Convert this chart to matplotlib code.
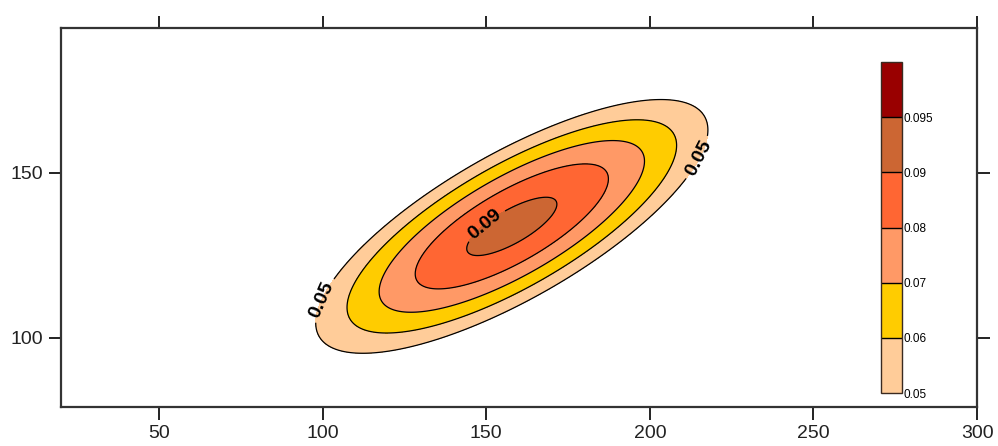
import numpy as np
import matplotlib
matplotlib.use('Agg')
import matplotlib.pyplot as plt

plt.rcParams['font.family'] = ['Liberation Sans', 'DejaVu Sans']

# contour levels and the fill colours from the legend
levels = [0.05, 0.06, 0.07, 0.08, 0.09, 0.095, 0.1]
level_labels = ['0.05', '0.06', '0.07', '0.08', '0.09', '0.095']
fill_colors = ['#FFCC99', '#FFCC00', '#FF9966', '#FF6633', '#CC6633', '#990000']

# gaussian surface, parameters
peak = 0.093
center_x, center_y = 157.8, 133.8
sigma_x, sigma_y, rho = 53.8, 34.5, 0.76

x_range = (20, 300)
y_range = (79, 194)
x_ticks = [50, 100, 150, 200, 250, 300]
y_ticks = [100, 150]

# which contours carry a label, and roughly where
labelled_levels = [0.05, 0.09]
plain_levels = [0.06, 0.07, 0.08]
label_spots = [(101, 111), (214, 155), (150, 134)]

gx = np.linspace(x_range[0], x_range[1], 700)
gy = np.linspace(y_range[0], y_range[1], 400)
X, Y = np.meshgrid(gx, gy)
dx = (X - center_x) / sigma_x
dy = (Y - center_y) / sigma_y
q = (dx**2 - 2 * rho * dx * dy + dy**2) / (1 - rho**2)
Z = peak * np.exp(-q / 2)

fig = plt.figure(figsize=(9.98, 4.46), dpi=100)
ax = fig.add_axes([0.0611, 0.0868, 0.9179, 0.8511])

cf = ax.contourf(X, Y, Z, levels=levels, colors=fill_colors)
ax.contour(X, Y, Z, levels=plain_levels, colors='k', linewidths=0.9)
cs = ax.contour(X, Y, Z, levels=labelled_levels, colors='k', linewidths=0.9)
ax.clabel(cs, manual=label_spots, inline=True,
          fmt={l: '%.2f' % l for l in labelled_levels},
          fontsize=14, colors='k')
for t in cs.labelTexts:
    t.set_fontweight('bold')

ax.set_xlim(x_range)
ax.set_ylim(y_range)
ax.set_xticks(x_ticks)
ax.set_yticks(y_ticks)
ax.tick_params(direction='out', length=9, width=1.4, top=True, right=True,
               labeltop=False, labelright=False, labelsize=14,
               colors='#222222', pad=4)
for s in ax.spines.values():
    s.set_linewidth(1.6)
    s.set_color('#333333')

cax = fig.add_axes([0.8828, 0.1188, 0.021, 0.742])
cb = fig.colorbar(cf, cax=cax, spacing='uniform', drawedges=True,
                  ticks=levels[:-1])
cb.set_ticklabels(level_labels)
cb.ax.tick_params(length=0, labelsize=8.5, pad=1)
cb.outline.set_linewidth(1.0)
cb.outline.set_edgecolor('#3a2a20')
cb.dividers.set_color('k')
cb.dividers.set_linewidth(1.0)

plt.savefig('out.png', dpi=100)
